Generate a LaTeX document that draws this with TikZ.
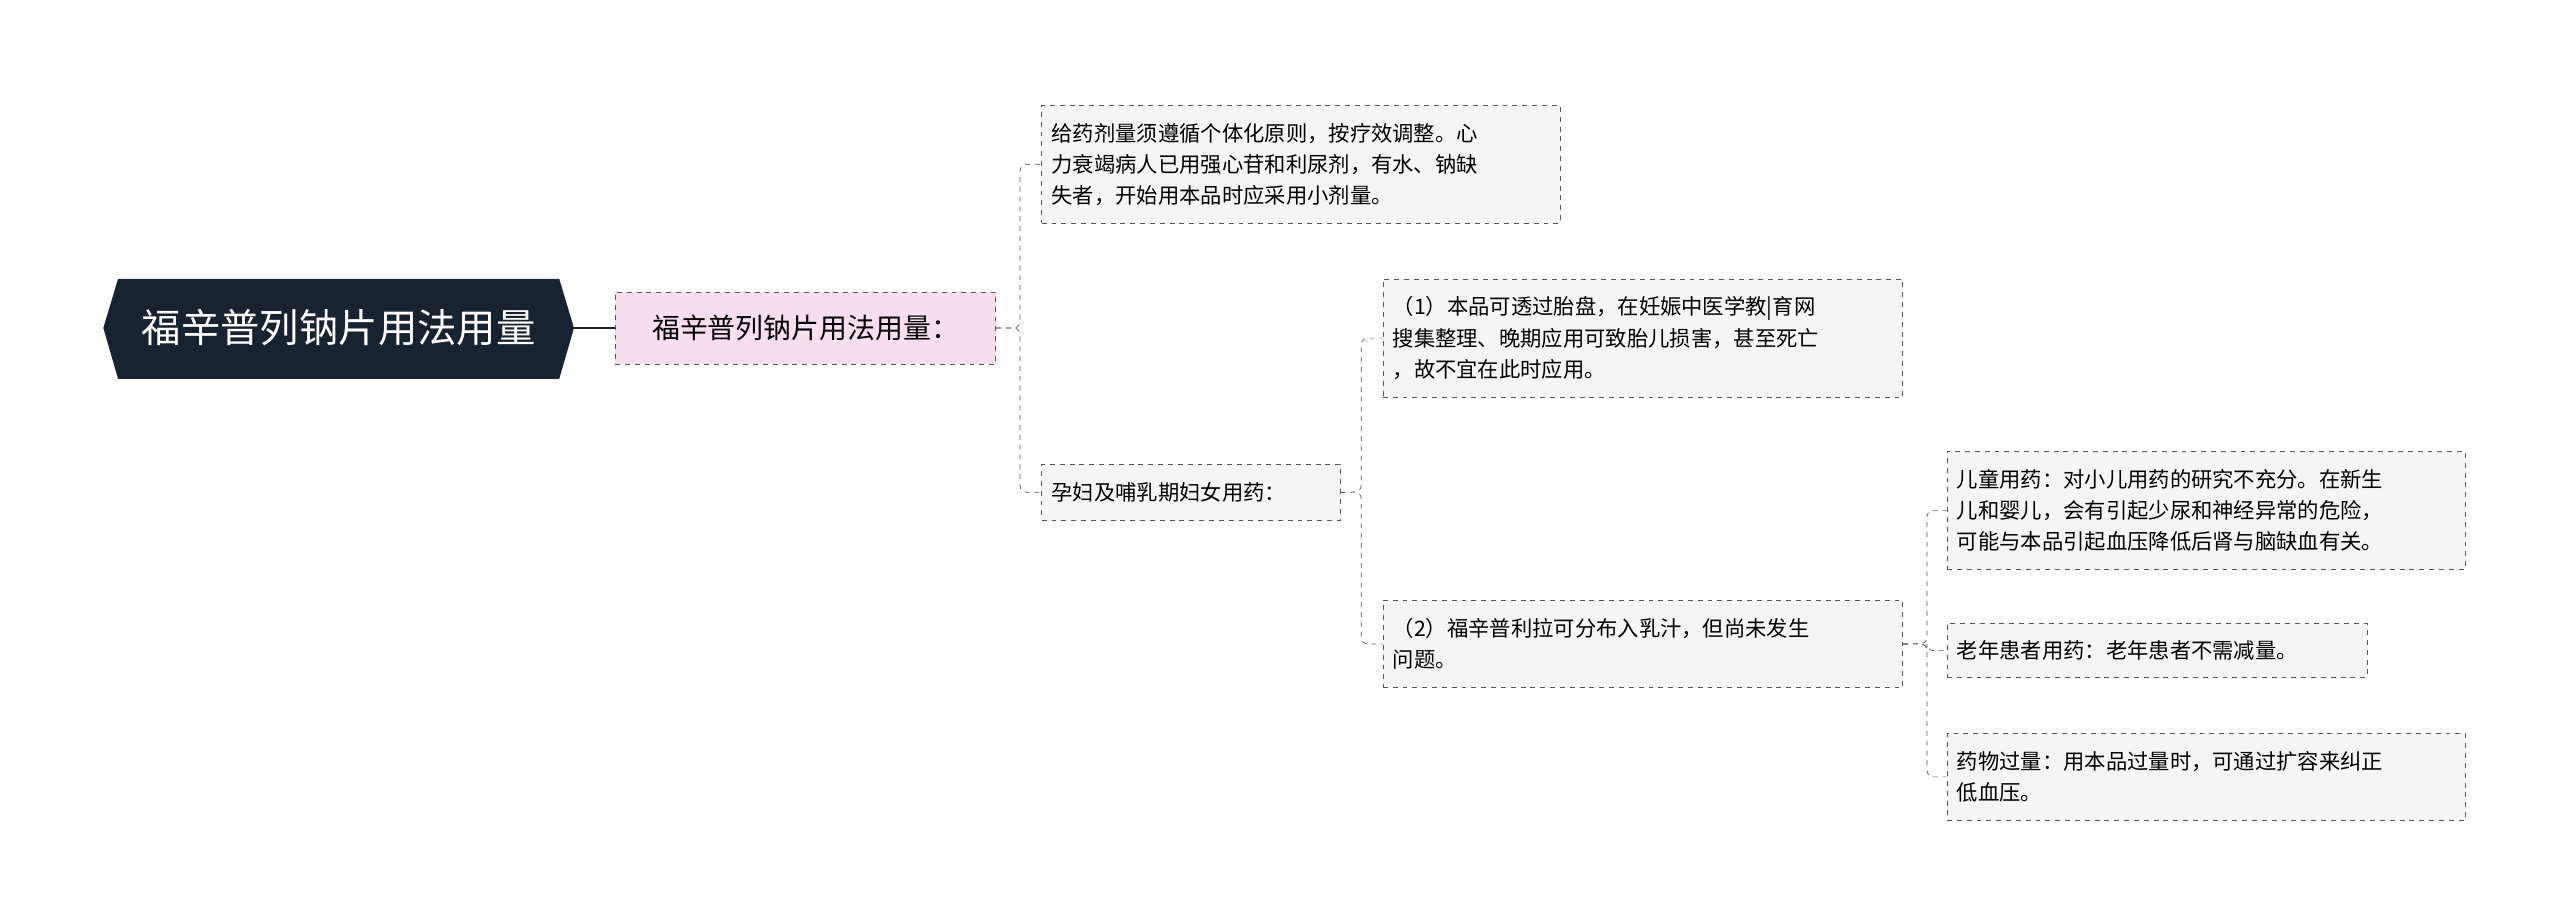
\documentclass[tikz,border=0pt]{standalone}
\usepackage{fontspec}
\newfontfamily\cjk{Noto Sans CJK SC}
\usetikzlibrary{shapes.geometric}
\definecolor{navy}{HTML}{172331}
\definecolor{pinkf}{HTML}{F8DDF0}
\definecolor{boxf}{HTML}{F5F5F5}
\definecolor{lnc}{HTML}{555555}
\tikzset{
 leaf/.style={draw=lnc,dashed,fill=boxf,anchor=north west,align=left,inner xsep=6pt,inner ysep=4pt,font=\cjk\fontsize{13}{19}\selectfont,minimum height=#1},
 leaf/.default=0pt,
 conn/.style={draw=lnc,dashed,rounded corners=4pt}
}
\begin{document}
\begin{tikzpicture}[x=1pt,y=-1pt]
\useasboundingbox (0,0) rectangle (1561,562);
\node[regular polygon,regular polygon sides=6,shape border rotate=90,fill=navy,minimum width=0pt,inner sep=0pt,draw=none] at (-100,-100) {};
\fill[navy] (63,200) -- (72,170) -- (341,170) -- (350,200) -- (341,231) -- (72,231) -- cycle;
\node[font=\cjk\fontsize{24}{28}\selectfont,text=white] (root) at (206.5,200) {福辛普列钠片用法用量};
\coordinate (rootE) at (350,200);
\node[draw=lnc,dashed,fill=pinkf,minimum width=232pt,minimum height=44pt,font=\cjk\fontsize{17}{20}\selectfont,anchor=west] (l1) at (375,200) {福辛普列钠片用法用量：};
\draw[navy,line width=1.5pt] (rootE) -- (l1.west);
\node[leaf,text width=304pt,minimum height=72pt] (a) at (635,64) {给药剂量须遵循个体化原则，按疗效调整。心\\力衰竭病人已用强心苷和利尿剂，有水、钠缺\\失者，开始用本品时应采用小剂量。};
\node[leaf,text width=170pt,minimum height=34pt] (b) at (635,283) {孕妇及哺乳期妇女用药：};
\node[leaf,text width=305pt,minimum height=72pt] (c1) at (843,170) {（1）本品可透过胎盘，在妊娠中医学教|育网\\搜集整理、晚期应用可致胎儿损害，甚至死亡\\，故不宜在此时应用。};
\node[leaf,text width=305pt,minimum height=53pt] (c2) at (843,366) {（2）福辛普利拉可分布入乳汁，但尚未发生\\问题。};
\node[leaf,text width=304pt,minimum height=72pt] (d1) at (1187,275) {儿童用药：对小儿用药的研究不充分。在新生\\儿和婴儿，会有引起少尿和神经异常的危险，\\可能与本品引起血压降低后肾与脑缺血有关。};
\node[leaf,text width=244pt,minimum height=33pt] (d2) at (1187,380) {老年患者用药：老年患者不需减量。};
\node[leaf,text width=304pt,minimum height=53pt] (d3) at (1187,447) {药物过量：用本品过量时，可通过扩容来纠正\\低血压。};
\foreach \c in {a,b} \draw[conn] (l1.east) -- (622,200) |- (\c.west);
\foreach \c in {c1,c2} \draw[conn] (b.east) -- (830,300) |- (\c.west);
\foreach \c in {d1,d2,d3} \draw[conn] (c2.east) -- (1175,392.5) |- (\c.west);
\end{tikzpicture}
\end{document}
